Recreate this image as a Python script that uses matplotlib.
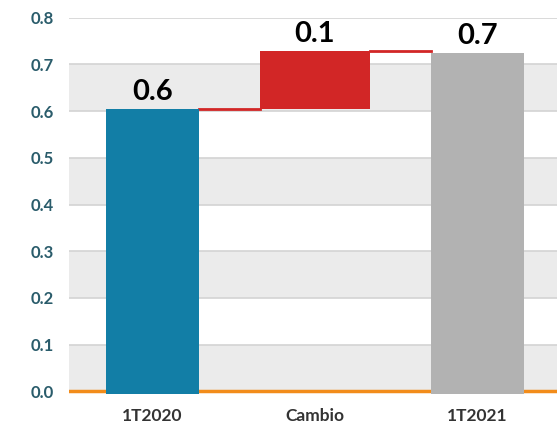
import numpy as np
import matplotlib
matplotlib.use("Agg")
import matplotlib.pyplot as plt

categories = ["1T2020", "Cambio", "1T2021"]
start_value = 0.605
change_value = 0.124
end_value = 0.725
value_labels = ["0.6", "0.1", "0.7"]
y_ticks = [0.0, 0.1, 0.2, 0.3, 0.4, 0.5, 0.6, 0.7, 0.8]

plt.rcParams['font.family'] = ['Lato', 'DejaVu Sans']

fig = plt.figure(figsize=(5.57, 4.28), dpi=100)
ax = fig.add_axes([0.124, 0.0794, 0.876, 0.879])

# alternating bands and grid lines
for i in range(0, len(y_ticks) - 1, 2):
    ax.axhspan(y_ticks[i], y_ticks[i + 1], color='#EBEBEB', zorder=0, lw=0)
for t in y_ticks[1:]:
    ax.axhline(t, color='#D3D3D3', lw=1.2, zorder=1)

x = np.arange(len(categories))
widths = [0.57, 0.68, 0.57]
bottoms = [-0.006, start_value, -0.006]
heights = [start_value + 0.006, change_value, end_value + 0.006]
colors = ['#127EA6', '#D22626', '#B2B2B2']
ax.bar(x, heights, width=widths, bottom=bottoms, color=colors, zorder=3, lw=0)

# connector lines
ax.plot([x[0] + widths[0] / 2, x[1] - widths[1] / 2], [start_value, start_value],
        color='#D22626', lw=2, zorder=2)
ax.plot([x[1] + widths[1] / 2, x[2] - widths[2] / 2],
        [start_value + change_value, start_value + change_value],
        color='#D22626', lw=2, zorder=2)

# baseline
ax.axhline(0, color='#F28C1A', lw=2.5, zorder=2)

tops = [start_value, start_value + change_value, end_value]
for xi, top, lab in zip(x, tops, value_labels):
    ax.text(xi, top + 0.008, lab, ha='center', va='bottom', fontsize=21,
            fontweight='bold', color='black', zorder=4, clip_on=False)

ax.set_xlim(-0.512, 2.488)
ax.set_ylim(-0.006, 0.8)
ax.set_yticks(y_ticks)
ax.set_yticklabels([f"{t:.1f}" for t in y_ticks], fontsize=12, fontweight='bold',
                   color='#2A5C6B')
ax.set_xticks(x)
ax.set_xticklabels(categories, fontsize=12.5, fontweight='bold', color='#333333')
ax.tick_params(axis='y', length=0, pad=11)
ax.tick_params(axis='x', length=0, pad=10)
for s in ax.spines.values():
    s.set_visible(False)

fig.savefig("out.png", dpi=100)
